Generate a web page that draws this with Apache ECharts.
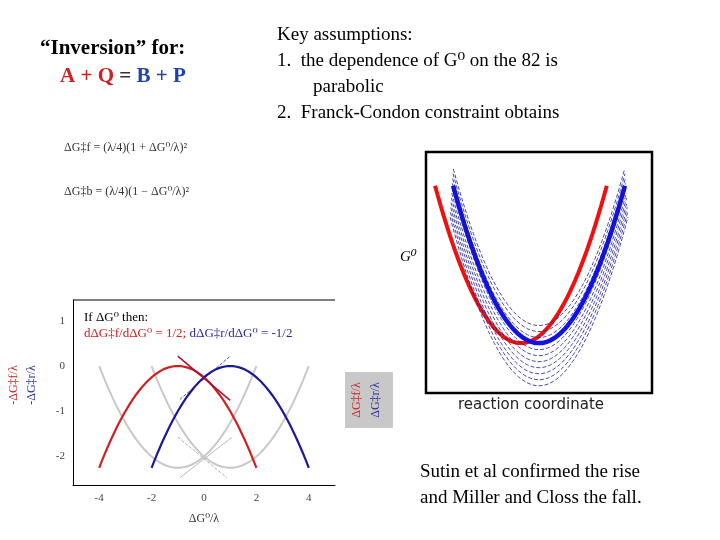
<!DOCTYPE html>
<html><head><meta charset="utf-8">
<script src="https://cdn.jsdelivr.net/npm/echarts@6/dist/echarts.min.js"></script>
<style>html,body{margin:0;background:#fff}#c{width:720px;height:540px}</style>
</head><body><div id="c"></div>
<script>
// Left chart: free energy of activation vs driving force (units of lambda)
const xTicks = [-4, -2, 0, 2, 4];
const yTicks = [1, 0, -1, -2];
// parabola: [center, xStart, xEnd, sign, offset]  y = sign*(x-c)^2/4 + offset
const redCurve = [-1, -4, 2, -1, 0];
const blueCurve = [1, -2, 4, -1, 0];
const grayCurves = [[-1, -4, 2, 1, -2.25], [1, -2, 4, 1, -2.25]];
const redTangent = [[-1.0, 0.22], [1.0, -0.76]];
const blueTangent = [[-0.92, -0.74], [1.0, 0.22]];
const grayTangentA = [[-1.0, -1.57], [0.88, -2.47]];
const grayTangentB = [[-0.92, -2.47], [1.08, -1.57]];
// Right chart: parabolas along reaction coordinate, [center, halfWidth, min, top]
const blueWell = [50, 38, 20.7, 86];
const redWell = [42, 38, 20.7, 86];
const dashedMins = [28, 25.5, 23, 20.5, 18, 15.5, 13, 10.5, 8, 5.5, 3];
const dashedTops = [93, 91, 89, 87, 85, 83, 81, 79, 77, 75, 73];

function parab(p){const [c,a,b,s,o]=p;const out=[];for(let i=0;i<=60;i++){const x=a+(b-a)*i/60;out.push([x,s*(x-c)*(x-c)/4+o]);}return out;}
function well(c,h,m,t){const out=[];const k=(t-m)/(h*h);for(let i=0;i<=60;i++){const x=c-h+2*h*i/60;out.push([x,k*(x-c)*(x-c)+m]);}return out;}
function line(data,color,w,type,xi){return {type:'line',xAxisIndex:xi,yAxisIndex:xi,data,showSymbol:false,symbol:'none',lineStyle:{color,width:w,type:type||'solid'},silent:true,z:type?3:2};}

const K = (blueWell[3]-blueWell[2])/(blueWell[1]*blueWell[1]);
const series=[];
grayCurves.forEach(g=>series.push(line(parab(g),'#c8c8c8',2,null,0)));
series.push(line(parab(redCurve),'#cc2222',2.2,null,0));
series.push(line(parab(blueCurve),'#1a1a99',2.2,null,0));
series.push(line(redTangent,'#aa1133',1.5,null,0));
series.push(line(blueTangent,'#222266',0.8,'dashed',0));
series.push(line(grayTangentA,'#999',0.8,'dashed',0));
series.push(line(grayTangentB,'#bbb',1,null,0));
dashedMins.forEach((m,i)=>{const t=dashedTops[i];const h=Math.sqrt((t-m)/K);
  const s=line(well(50,h,m,t),'#1a1a99',0.8,'dashed',1);s.lineStyle.type=[4,2];series.push(s);});
series.push(line(well(...redWell),'#ee1111',4,null,1));
series.push(line(well(...blueWell),'#1111ee',4.5,null,1));

const serif='"Liberation Serif","DejaVu Serif",serif';
const T=(x,y,text,size,color,font)=>({type:'text',left:x,top:y,style:{text,font:font||`${size}px ${serif}`,fill:color||'#000'}});
const R=(x,y,text,color,size)=>({type:'text',x,y,rotation:Math.PI/2,style:{text,font:`${size||12}px ${serif}`,fill:color,align:'center',verticalAlign:'middle'}});

const chart=echarts.init(document.getElementById('c'));
chart.setOption({
  animation:false,
  grid:[{left:73,top:300,width:262,height:185},{left:426,top:152,width:226,height:241}],
  xAxis:[{type:'value',gridIndex:0,min:-5,max:5,
          axisLine:{onZero:false,lineStyle:{color:'#000'}},axisTick:{show:false},splitLine:{show:false},
          axisLabel:{color:'#444',fontFamily:serif,fontSize:11,customValues:xTicks},
          name:'ΔG⁰/λ',nameLocation:'middle',nameGap:28,nameTextStyle:{fontFamily:serif,fontSize:12,color:'#333'}},
         {type:'value',gridIndex:1,min:0,max:100,show:false}],
  yAxis:[{type:'value',gridIndex:0,min:-2.63,max:1.46,
          axisLine:{show:true,onZero:false,lineStyle:{color:'#000'}},axisTick:{show:false},splitLine:{show:false},
          axisLabel:{color:'#444',fontFamily:serif,fontSize:11,customValues:yTicks}},
         {type:'value',gridIndex:1,min:0,max:100,show:false}],
  series,
  graphic:[
    {type:'rect',shape:{x:426,y:152,width:226,height:241},style:{fill:'none',stroke:'#000',lineWidth:2.5}},
    {type:'line',shape:{x1:73,y1:300,x2:335,y2:300},style:{stroke:'#000',lineWidth:1}},
    T(40,38,'“Inversion” for:',21,'#000',`bold 21px ${serif}`),
    {type:'text',left:60,top:66,style:{rich:{r:{fill:'#cc2222',font:`bold 21px ${serif}`},b:{fill:'#2244aa',font:`bold 21px ${serif}`},k:{fill:'#333',font:`bold 21px ${serif}`}},text:'{r|A + Q }{k|= }{b|B + P}'}},
    T(64,142,'ΔG‡f = (λ/4)(1 + ΔG⁰/λ)²',12,'#333'),
    T(64,186,'ΔG‡b = (λ/4)(1 − ΔG⁰/λ)²',12,'#333'),
    T(277,26,'Key assumptions:',19),
    T(277,52,'1.  the dependence of G⁰ on the 82 is',19),
    T(313,78,'parabolic',19),
    T(277,104,'2.  Franck-Condon constraint obtains',19),
    T(400,250,'G⁰',15,'#000',`italic 15px ${serif}`),
    {type:'text',left:458,top:398,style:{text:'reaction coordinate',font:'15px "DejaVu Sans",sans-serif',fill:'#222'}},
    T(420,463,'Sutin et al confirmed the rise',19),
    T(420,489,'and Miller and Closs the fall.',19),
    T(84,311,'If ΔG⁰ then:',13,'#000'),
    {type:'text',left:84,top:327,style:{rich:{r:{fill:'#cc2222',font:`13px ${serif}`},b:{fill:'#2a2a99',font:`13px ${serif}`}},text:'{r|dΔG‡f/dΔG⁰ = 1/2;} {b|dΔG‡r/dΔG⁰ = -1/2}'}},
    R(14,385,'-ΔG‡f/λ','#cc2222',12),
    R(32,385,'-ΔG‡r/λ','#2a2a99',12),
    {type:'rect',shape:{x:345,y:372,width:48,height:56},style:{fill:'#c8c8c8'}},
    R(357,400,'ΔG‡f/λ','#cc2222',12),
    R(376,400,'ΔG‡r/λ','#2a2a99',12)
  ]
});
</script></body></html>
